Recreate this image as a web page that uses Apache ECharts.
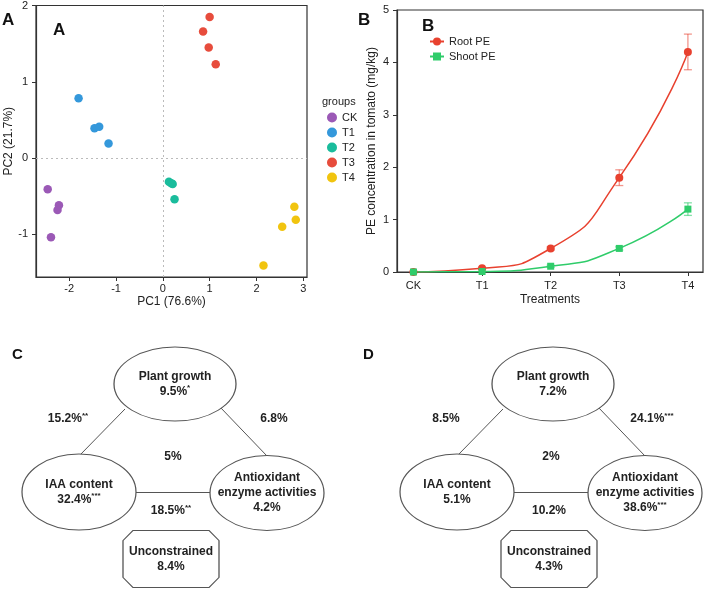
<!DOCTYPE html>
<html>
<head>
<meta charset="utf-8">
<script src="https://cdn.jsdelivr.net/npm/echarts@6/dist/echarts.min.js"></script>
<style>
  html, body { margin: 0; padding: 0; background: #fff; }
  #main { width: 708px; height: 590px; }
</style>
</head>
<body>
<div id="main"></div>
<script>
// ---- panel A: PCA scores ----
var pcaGroups = ['CK', 'T1', 'T2', 'T3', 'T4'];
var ckScores = [[-2.46, -0.41], [-2.22, -0.62], [-2.25, -0.68], [-2.39, -1.04]];
var t1Scores = [[-1.80, 0.785], [-1.46, 0.39], [-1.36, 0.41], [-1.16, 0.19]];
var t2Scores = [[0.13, -0.31], [0.18, -0.33], [0.21, -0.34], [0.25, -0.54]];
var t3Scores = [[1.00, 1.85], [0.86, 1.66], [0.98, 1.45], [1.13, 1.23]];
var t4Scores = [[2.81, -0.64], [2.84, -0.81], [2.55, -0.90], [2.15, -1.41]];
var pc1Ticks = [-2, -1, 0, 1, 2, 3];
var pc2Ticks = [-1, 0, 1, 2];

// ---- panel B: PE concentration ----
var treatments = ['CK', 'T1', 'T2', 'T3', 'T4'];
var rootPE = [0, 0.07, 0.45, 1.80, 4.20];
var rootErr = [0, 0.02, 0.03, 0.15, 0.34];
var shootPE = [0, 0.01, 0.11, 0.45, 1.20];
var shootErr = [0, 0, 0.02, 0.03, 0.12];

// ---- panels C, D: variation partitioning ----
var partNames = ['Plant growth', 'IAA content', 'Antioxidant\nenzyme activities', 'Unconstrained'];
var partC = ['9.5%*', '32.4%***', '4.2%', '8.4%'];
var partD = ['7.2%', '5.1%', '38.6%***', '4.3%'];
// shared fractions: growth-IAA, growth-antioxidant, all three, IAA-antioxidant
var sharedC = ['15.2%**', '6.8%', '5%', '18.5%**'];
var sharedD = ['8.5%', '24.1%***', '2%', '10.2%'];

// diagram layout (local px inside a panel)
var octagon = 'path://M10,0L86,0L96,10L96,47L86,57L10,57L0,47L0,10Z';
var nodeLayout = [
  { pos: [175, 74], size: [122, 74], symbol: 'circle' },
  { pos: [79, 182], size: [114, 76], symbol: 'circle' },
  { pos: [267, 183], size: [114, 75], symbol: 'circle' },
  { pos: [171, 249], size: [96, 57], symbol: octagon }
];
var edgeLayout = [
  [[125, 99], [80, 145]],
  [[220, 97], [267, 146]],
  [[136, 182], [210, 182]]
];
var sharedLayout = [[68, 109], [274, 109], [173, 147], [171, 201]];

var FONT = '"Liberation Sans", Arial, sans-serif';
var pcaColors = ['#9b59b6', '#3498db', '#1abc9c', '#e74c3c', '#f1c40f'];
var rootColor = '#e8412f';
var shootColor = '#2fcc6a';

var chart = echarts.init(document.getElementById('main'));

function pct(s) {
  var m = s.match(/^([^*]*)(\**)$/);
  var out = '{v|' + m[1] + '}';
  if (m[2]) out += '{s|' + m[2] + '}';
  return out;
}

var richText = {
  v: { fontSize: 12, fontWeight: 'bold', color: '#222', fontFamily: FONT, lineHeight: 15 },
  s: { fontSize: 8, fontWeight: 'bold', color: '#222', fontFamily: FONT, lineHeight: 15, verticalAlign: 'top' }
};

function diagramSeries(idx, vals, shared) {
  var nodes = nodeLayout.map(function (n, i) {
    var lines = partNames[i].split('\n').map(function (l) { return '{v|' + l + '}'; });
    lines.push(pct(vals[i]));
    return {
      value: n.pos,
      symbol: n.symbol,
      symbolSize: n.size,
      text: lines.join('\n')
    };
  });
  var labels = sharedLayout.map(function (p, i) {
    return {
      value: p,
      symbol: 'circle',
      symbolSize: 1,
      itemStyle: { color: 'transparent', borderWidth: 0 },
      text: pct(shared[i])
    };
  });
  return [
    {
      type: 'lines',
      coordinateSystem: 'cartesian2d',
      xAxisIndex: idx, yAxisIndex: idx,
      silent: true,
      lineStyle: { color: '#555', width: 1, opacity: 1 },
      data: edgeLayout.map(function (c) { return { coords: c }; }),
      z: 1
    },
    {
      type: 'scatter',
      xAxisIndex: idx, yAxisIndex: idx,
      silent: true,
      itemStyle: { color: '#fff', borderColor: '#555', borderWidth: 1, opacity: 1 },
      label: {
        show: true,
        position: 'inside',
        formatter: function (p) { return p.data.text; },
        rich: richText
      },
      data: nodes.concat(labels),
      z: 2
    }
  ];
}

function errorBars(values, errs, color, name) {
  return {
    type: 'custom',
    name: name,
    xAxisIndex: 1, yAxisIndex: 1,
    silent: true,
    z: 3,
    data: values.map(function (v, i) { return [i, v - errs[i], v + errs[i]]; }),
    renderItem: function (params, api) {
      if (api.value(2) - api.value(1) <= 0) return null;
      var lo = api.coord([api.value(0), api.value(1)]);
      var hi = api.coord([api.value(0), api.value(2)]);
      var w = 4;
      var st = { stroke: color, lineWidth: 1.3 };
      return {
        type: 'group',
        children: [
          { type: 'line', shape: { x1: lo[0], y1: lo[1], x2: hi[0], y2: hi[1] }, style: st },
          { type: 'line', shape: { x1: lo[0] - w, y1: lo[1], x2: lo[0] + w, y2: lo[1] }, style: st },
          { type: 'line', shape: { x1: hi[0] - w, y1: hi[1], x2: hi[0] + w, y2: hi[1] }, style: st }
        ]
      };
    }
  };
}

var axisText = { color: '#222', fontSize: 11, fontFamily: FONT };
var tickStyle = { show: true, length: 4, lineStyle: { color: '#333' } };

var pcaSets = [ckScores, t1Scores, t2Scores, t3Scores, t4Scores];
var pcaSeries = pcaGroups.map(function (g, i) {
  var s = {
    type: 'scatter',
    name: g,
    xAxisIndex: 0, yAxisIndex: 0,
    symbolSize: 8.5,
    itemStyle: { color: pcaColors[i], opacity: 1 },
    data: pcaSets[i],
    z: 3
  };
  if (i === 0) {
    s.markLine = {
      silent: true,
      symbol: 'none',
      label: { show: false },
      lineStyle: { type: [2, 3], color: '#bbb', width: 1 },
      data: [{ xAxis: 0 }, { yAxis: 0 }]
    };
  }
  return s;
});

function xy(vals) { return vals.map(function (v, i) { return [i, v]; }); }

var option = {
  animation: false,
  textStyle: { fontFamily: FONT },
  graphic: [
    { type: 'text', left: 2, top: 12, style: { text: 'A', font: 'bold 17px ' + FONT, fill: '#111' } },
    { type: 'text', left: 53, top: 22, style: { text: 'A', font: 'bold 17px ' + FONT, fill: '#111' } },
    { type: 'text', left: 322, top: 96, style: { text: 'groups', font: '11px ' + FONT, fill: '#222' } },
    { type: 'text', left: 358, top: 12, style: { text: 'B', font: 'bold 17px ' + FONT, fill: '#111' } },
    { type: 'text', left: 422, top: 18, style: { text: 'B', font: 'bold 17px ' + FONT, fill: '#111' } },
    { type: 'text', left: 12, top: 347, style: { text: 'C', font: 'bold 15px ' + FONT, fill: '#111' } },
    { type: 'text', left: 363, top: 347, style: { text: 'D', font: 'bold 15px ' + FONT, fill: '#111' } }
  ],
  legend: [
    {
      data: pcaGroups,
      orient: 'vertical',
      left: 327, top: 112,
      padding: 0,
      icon: 'circle',
      itemWidth: 10, itemHeight: 10, itemGap: 4,
      textStyle: { fontSize: 11, color: '#222', fontFamily: FONT },
      selectedMode: false
    },
    {
      data: ['Root PE', 'Shoot PE'],
      orient: 'vertical',
      left: 429, top: 36,
      padding: 0,
      itemWidth: 14, itemHeight: 10, itemGap: 4,
      textStyle: { fontSize: 11, color: '#222', fontFamily: FONT },
      selectedMode: false
    }
  ],
  grid: [
    { left: 36, top: 5, width: 271, height: 272, show: true, borderColor: '#333', borderWidth: 1.2 },
    { left: 397, top: 10, width: 306, height: 262, show: true, borderColor: '#333', borderWidth: 1.2 },
    { left: 0, top: 310, width: 340, height: 280 },
    { left: 378, top: 310, width: 330, height: 280 }
  ],
  xAxis: [
    {
      type: 'value', gridIndex: 0, min: -2.71, max: 3.08,
      name: 'PC1 (76.6%)', nameLocation: 'middle', nameGap: 19,
      nameTextStyle: { fontSize: 12, color: '#222', fontFamily: FONT },
      axisLine: { show: true, onZero: false, lineStyle: { color: '#333', width: 1.2 } },
      axisTick: { show: true, length: 4, customValues: pc1Ticks, lineStyle: { color: '#333' } },
      axisLabel: Object.assign({ customValues: pc1Ticks, margin: 6 }, axisText),
      splitLine: { show: false }
    },
    {
      type: 'value', gridIndex: 1, min: -0.24, max: 4.22,
      name: 'Treatments', nameLocation: 'middle', nameGap: 22,
      nameTextStyle: { fontSize: 12, color: '#222', fontFamily: FONT },
      axisLine: { show: true, onZero: false, lineStyle: { color: '#333', width: 1.2 } },
      axisTick: { show: true, length: 4, customValues: [0, 1, 2, 3, 4], lineStyle: { color: '#333' } },
      axisLabel: Object.assign({
        customValues: [0, 1, 2, 3, 4], margin: 8,
        formatter: function (v) { return treatments[Math.round(v)]; }
      }, axisText),
      splitLine: { show: false }
    },
    { type: 'value', gridIndex: 2, min: 0, max: 340, show: false },
    { type: 'value', gridIndex: 3, min: 0, max: 330, show: false }
  ],
  yAxis: [
    {
      type: 'value', gridIndex: 0, min: -1.56, max: 2,
      name: 'PC2 (21.7%)', nameLocation: 'middle', nameGap: 20,
      nameTextStyle: { fontSize: 12, color: '#222', fontFamily: FONT },
      axisLine: { show: true, onZero: false, lineStyle: { color: '#333', width: 1.2 } },
      axisTick: { show: true, length: 4, customValues: pc2Ticks, lineStyle: { color: '#333' } },
      axisLabel: Object.assign({ customValues: pc2Ticks, margin: 8 }, axisText),
      splitLine: { show: false }
    },
    {
      type: 'value', gridIndex: 1, min: 0, max: 5, interval: 1,
      name: 'PE concentration in tomato (mg/kg)', nameLocation: 'middle', nameGap: 19,
      nameTextStyle: { fontSize: 12, color: '#222', fontFamily: FONT },
      axisLine: { show: true, onZero: false, lineStyle: { color: '#333', width: 1.2 } },
      axisTick: tickStyle,
      axisLabel: Object.assign({ margin: 8 }, axisText),
      splitLine: { show: false }
    },
    { type: 'value', gridIndex: 2, min: 0, max: 280, inverse: true, show: false },
    { type: 'value', gridIndex: 3, min: 0, max: 280, inverse: true, show: false }
  ],
  series: pcaSeries.concat([
    {
      type: 'line', name: 'Root PE',
      xAxisIndex: 1, yAxisIndex: 1,
      smooth: 0.6,
      symbol: 'circle', symbolSize: 8,
      showAllSymbol: true,
      lineStyle: { color: rootColor, width: 1.5 },
      itemStyle: { color: rootColor },
      data: xy(rootPE),
      z: 4
    },
    {
      type: 'line', name: 'Shoot PE',
      xAxisIndex: 1, yAxisIndex: 1,
      smooth: 0.6,
      symbol: 'rect', symbolSize: 7,
      showAllSymbol: true,
      lineStyle: { color: shootColor, width: 1.5 },
      itemStyle: { color: shootColor },
      data: xy(shootPE),
      z: 4
    },
    errorBars(rootPE, rootErr, 'rgba(232,65,47,0.55)', 'rootErr'),
    errorBars(shootPE, shootErr, 'rgba(47,204,106,0.6)', 'shootErr')
  ]).concat(diagramSeries(2, partC, sharedC)).concat(diagramSeries(3, partD, sharedD))
};

chart.setOption(option);
</script>
</body>
</html>
